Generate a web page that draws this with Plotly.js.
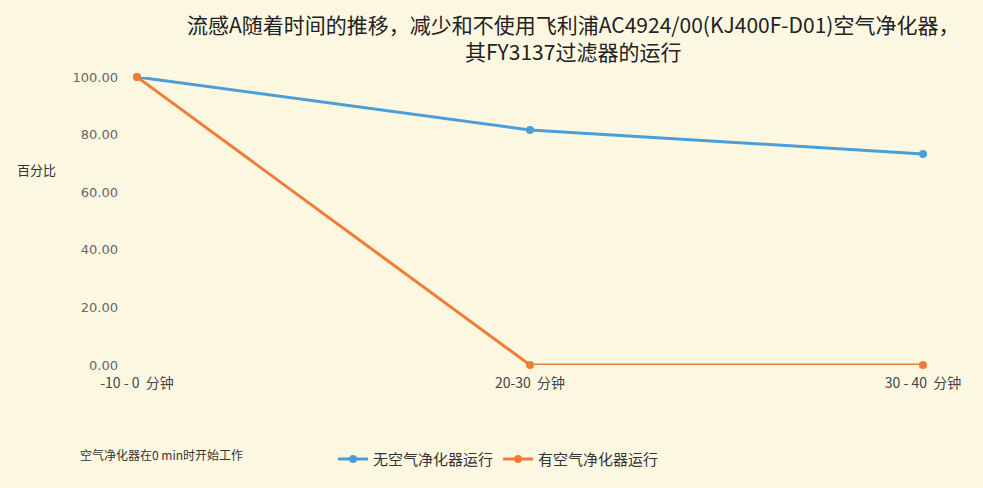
<!DOCTYPE html>
<html>
<head>
<meta charset="utf-8">
<script src="https://cdn.plot.ly/plotly-3.0.1.min.js"></script>
<style>html,body{margin:0;padding:0;background:#fcf7e1;}</style>
</head>
<body>
<div id="chart" style="width:983px;height:488px;"></div>
<script>
const categories = ["-10 - 0  分钟", "20-30  分钟", "30 - 40  分钟"];
const seriesNames = ["无空气净化器运行", "有空气净化器运行"];
const noPurifier = [100.00, 81.6, 73.3];
const withPurifier = [100.00, 0.00, 0.00];
const yTicks = [0, 20, 40, 60, 80, 100];
const yTickLabels = ["0.00", "20.00", "40.00", "60.00", "80.00", "100.00"];
const titleText = "流感A随着时间的推移，减少和不使用飞利浦AC4924/00(KJ400F-D01)空气净化器，<br>其FY3137过滤器的运行";
const yTitle = "百分比";
const noteText = "空气净化器在0 min时开始工作";

const cjk = '"Noto Sans CJK SC", "Noto Sans", sans-serif';

const traces = [
  {x: categories, y: noPurifier, name: seriesNames[0], type: "scatter", mode: "lines+markers", cliponaxis: false,
   line: {color: "#4a9fd8", width: 3}, marker: {color: "#4a9fd8", size: 8}},
  {x: categories, y: withPurifier, name: seriesNames[1], type: "scatter", mode: "lines+markers", cliponaxis: false,
   line: {color: "#f07d36", width: 3}, marker: {color: "#f07d36", size: 8}}
];

const layout = {
  width: 983, height: 488,
  paper_bgcolor: "#fcf7e1", plot_bgcolor: "#fcf7e1",
  margin: {l: 137, r: 60, t: 77, b: 123},
  title: {text: titleText, font: {family: cjk, size: 21, color: "#222"},
          xref: "paper", x: 0.555, xanchor: "center", yref: "container", y: 0.932, yanchor: "middle"},
  xaxis: {type: "category", range: [0, 2], showgrid: false, zeroline: false, showline: false,
          ticks: "", ticklabelstandoff: 8, tickfont: {family: cjk, size: 14, color: "#444"}},
  yaxis: {range: [0, 100], tickvals: yTicks, ticktext: yTickLabels, showgrid: false, zeroline: false,
          showline: false, ticks: "", ticklabelstandoff: 18, tickfont: {family: "DejaVu Sans, sans-serif", size: 13, color: "#666"}},
  showlegend: true,
  legend: {orientation: "h", x: 0.46, xanchor: "center", y: -0.27, yanchor: "top",
           font: {family: cjk, size: 15, color: "#333"}, bgcolor: "rgba(0,0,0,0)"},
  annotations: [
    {text: yTitle, xref: "paper", yref: "paper", x: -0.1, y: 0.68, xanchor: "right", yanchor: "middle",
     showarrow: false, font: {family: cjk, size: 13, color: "#333"}},
    {text: noteText, xref: "paper", yref: "paper", x: -0.075, y: -0.31, xanchor: "left", yanchor: "middle",
     showarrow: false, font: {family: cjk, size: 12, color: "#333"}}
  ]
};

Plotly.newPlot("chart", traces, layout, {displayModeBar: false});
</script>
</body>
</html>
